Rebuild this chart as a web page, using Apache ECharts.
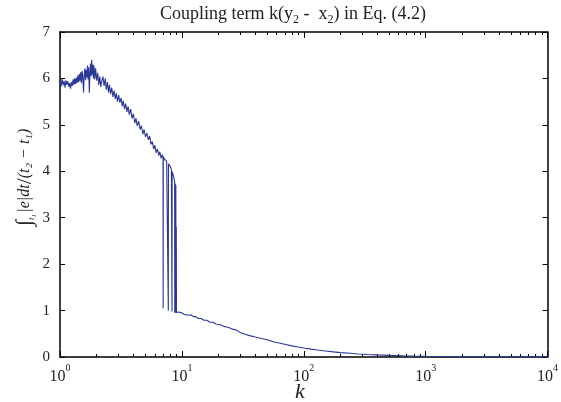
<!DOCTYPE html>
<html>
<head>
<meta charset="utf-8">
<script src="https://cdn.jsdelivr.net/npm/echarts@6/dist/echarts.min.js"></script>
<style>
  html, body { margin: 0; padding: 0; background: #fff; }
  #chart { width: 561px; height: 402px; }
</style>
</head>
<body>
<div id="chart"></div>
<script>
// coupling gain k
const kValues = [
  1.00, 1.02, 1.04, 1.06, 1.08, 1.10, 1.12, 1.14, 1.16, 1.18, 1.20, 1.22, 1.24, 1.26, 1.28, 1.30,
  1.32, 1.34, 1.36, 1.38, 1.40, 1.42, 1.44, 1.46, 1.48, 1.50, 1.52, 1.54, 1.56, 1.58, 1.60, 1.62,
  1.64, 1.66, 1.68, 1.70, 1.72, 1.74, 1.76, 1.78, 1.80, 1.82, 1.84, 1.86, 1.88, 1.90, 1.93, 1.96,
  2.00, 2.04, 2.08, 2.12, 2.16, 2.20,
  2.25, 2.30, 2.35, 2.40, 2.45, 2.50, 2.55, 2.60, 2.66, 2.72, 2.78, 2.84, 2.90, 2.96, 3.03, 3.10,
  3.17, 3.24, 3.31, 3.38, 3.46, 3.54, 3.62, 3.70, 3.80, 3.90, 4.00, 4.10, 4.20, 4.30, 4.42, 4.54,
  4.66, 4.78, 4.90, 5.03, 5.16, 5.30, 5.44, 5.58, 5.72, 5.86, 6.00, 6.15, 6.30, 6.45, 6.60, 6.75,
  6.90, 7.00,
  7.02, 7.04, 7.20, 7.35, 7.50, 7.65, 7.72, 7.74, 7.76, 7.90, 8.05, 8.20, 8.28, 8.30, 8.32, 8.45,
  8.60, 8.72, 8.74, 8.76, 8.80, 8.82, 8.84, 8.88, 8.92, 8.96, 9.00, 9.03, 9.10, 9.20,
  9.4, 9.7, 10.0, 10.4, 10.8, 11.3, 11.8, 12.4, 13.0, 13.7, 14.4, 15.2, 16.0, 17.0, 18.0, 19.0,
  20.5, 22, 24, 26, 28, 30, 33, 36, 40, 45, 50, 56, 63, 71, 80, 90,
  100, 115, 130, 150, 175, 200, 240, 280, 330, 400, 500, 650, 800, 1000, 1300, 1700,
  2200, 3000, 5000, 10000
];
// time-averaged |e|
const meanError = [
  5.92, 5.82, 6.00, 5.85, 5.95, 5.80, 5.96, 5.86, 5.94, 5.82, 5.90, 5.78, 5.92, 5.84, 5.98, 5.86,
  6.00, 5.88, 6.02, 5.90, 6.06, 5.92, 6.10, 5.94, 6.14, 5.90, 6.16, 6.02, 5.70, 6.08, 6.22, 5.96,
  6.18, 6.02, 6.28, 5.98, 6.24, 5.69, 6.10, 6.32, 6.05, 6.40, 6.08, 6.30, 6.00, 6.28, 5.98, 6.22,
  5.95, 6.12, 5.86, 6.04, 5.82, 5.94,
  6.04, 5.84, 6.00, 5.76, 5.92, 5.70, 5.86, 5.66, 5.80, 5.60, 5.74, 5.56, 5.68, 5.50, 5.64, 5.48,
  5.58, 5.40, 5.52, 5.34, 5.46, 5.28, 5.40, 5.22, 5.34, 5.14, 5.24, 5.04, 5.14, 4.98, 5.08, 4.90,
  4.98, 4.80, 4.90, 4.74, 4.82, 4.68, 4.76, 4.58, 4.64, 4.48, 4.56, 4.40, 4.48, 4.34, 4.42, 4.28,
  4.36, 4.30,
  1.05, 4.32, 4.26, 4.28, 4.22, 4.24, 4.18, 1.00, 4.16, 4.12, 4.10, 4.04, 4.02, 0.98, 4.00, 3.94,
  3.86, 3.78, 0.96, 3.75, 2.80, 0.95, 3.72, 1.00, 3.70, 0.97, 2.80, 0.96, 0.98, 0.95,
  0.97, 0.94, 0.95, 0.92, 0.93, 0.90, 0.91, 0.87, 0.87, 0.83, 0.83, 0.79, 0.79, 0.75, 0.75, 0.71,
  0.70, 0.66, 0.64, 0.60, 0.58, 0.53, 0.49, 0.46, 0.43, 0.40, 0.37, 0.33, 0.30, 0.27, 0.24, 0.215,
  0.195, 0.17, 0.15, 0.13, 0.11, 0.095, 0.08, 0.065, 0.055, 0.045, 0.035, 0.026, 0.02, 0.016, 0.012, 0.009,
  0.007, 0.005, 0.003, 0.002
];
const majorTicks = [1, 10, 100, 1000, 10000];
const minorTicks = [
  2, 3, 4, 5, 6, 7, 8, 9,
  20, 30, 40, 50, 60, 70, 80, 90,
  200, 300, 400, 500, 600, 700, 800, 900,
  2000, 3000, 4000, 5000, 6000, 7000, 8000, 9000
];

const FONT = "Liberation Serif";
const INK = "#222";

const chart = echarts.init(document.getElementById("chart"));

function logLabel(v){
  const e = Math.round(Math.log10(v));
  return "{b|10}{s|" + e + "}";
}
const expRich = {
  b: { fontFamily: FONT, fontSize: 16, color: INK, verticalAlign: "bottom", lineHeight: 22 },
  s: { fontFamily: FONT, fontSize: 10, color: INK, verticalAlign: "top", lineHeight: 22 }
};

function xAx(pos, ticks, len, withLine, withLabel){
  return {
    type: "log", logBase: 10, min: 1, max: 10000, position: pos,
    axisLine: { show: withLine, onZero: false, lineStyle: { color: "#000", width: 1.5 } },
    axisTick: { show: true, inside: true, length: len, customValues: ticks, lineStyle: { color: "#000" } },
    axisLabel: withLabel ? {
      show: true, customValues: ticks, margin: 6,
      formatter: logLabel, rich: expRich
    } : { show: false },
    splitLine: { show: false },
    minorTick: { show: false }
  };
}
function yAx(pos, withLabel){
  return {
    type: "value", min: 0, max: 7, interval: 1, position: pos,
    axisLine: { show: true, onZero: false, lineStyle: { color: "#000", width: 1.5 } },
    axisTick: { show: true, inside: true, length: 5, lineStyle: { color: "#000" } },
    axisLabel: { show: withLabel, margin: 10, fontFamily: FONT, fontSize: 15, color: INK },
    splitLine: { show: false }
  };
}

chart.setOption({
  animation: false,
  grid: { left: 60, right: 8, top: 32, bottom: 45, containLabel: false },
  title: {
    text: "Coupling term k(y{sub|2} -  x{sub|2}) in Eq. (4.2)",
    left: 288, top: -3, textAlign: "center",
    textStyle: {
      fontFamily: FONT, fontSize: 18, fontWeight: "normal", color: INK,
      rich: {
        sub: { fontFamily: FONT, fontSize: 12, color: INK, verticalAlign: "bottom", lineHeight: 24 }
      }
    }
  },
  xAxis: [
    xAx("bottom", majorTicks, 6, true, true),
    xAx("bottom", minorTicks, 3, false, false),
    xAx("top", majorTicks, 6, true, false),
    xAx("top", minorTicks, 3, false, false)
  ],
  yAxis: [yAx("left", true), yAx("right", false)],
  graphic: [
    {
      type: "text", left: 295, top: 381,
      style: { text: "k", fontFamily: FONT, fontStyle: "italic", fontSize: 22, fill: INK }
    },
    {
      type: "text", x: 14, y: 226, rotation: Math.PI / 2,
      style: {
        text: "{int|∫}{lim|t₁}{sp| }{it||e|dt}{sl|/}{it|(t₂ − t₁)}",
        fill: INK,
        rich: {
          int: { fontFamily: FONT, fontSize: 22, fill: INK },
          lim: { fontFamily: FONT, fontStyle: "italic", fontSize: 9, fill: INK, verticalAlign: "bottom" },
          sp: { fontSize: 6 },
          it: { fontFamily: FONT, fontStyle: "italic", fontSize: 16, fill: INK },
          sl: { fontFamily: FONT, fontSize: 22, fill: INK }
        }
      }
    }
  ],
  series: [{
    type: "line",
    xAxisIndex: 0, yAxisIndex: 0,
    showSymbol: false,
    lineStyle: { color: "#2b3896", width: 1.1 },
    data: kValues.map((k, i) => [k, meanError[i]])
  }]
});
</script>
</body>
</html>
